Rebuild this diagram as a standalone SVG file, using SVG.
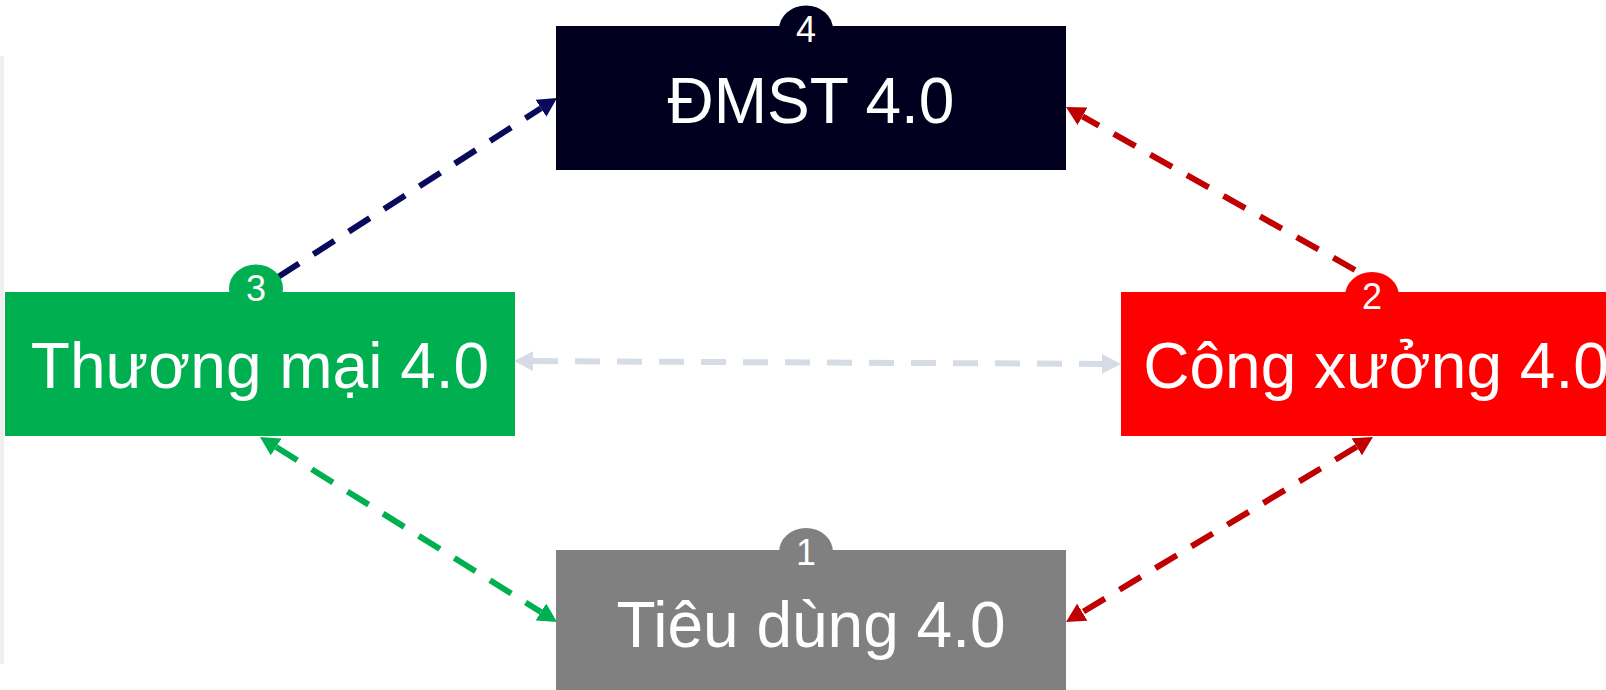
<svg xmlns="http://www.w3.org/2000/svg" width="1606" height="690" viewBox="0 0 1606 690">
  <style>
    .lbl { font-family: "Liberation Sans", Arial, sans-serif; font-size: 64px; fill: #ffffff; text-anchor: middle; }
    .num { font-family: "Liberation Sans", Arial, sans-serif; font-size: 36px; fill: #ffffff; text-anchor: middle; }
    .conn { fill: none; stroke-width: 6; stroke-dasharray: 25 17; }
  </style>
  <defs>
    <marker id="ah-navy" markerUnits="userSpaceOnUse" markerWidth="20" markerHeight="20" viewBox="0 -10 20 20" refX="0" refY="0" orient="auto-start-reverse">
      <path d="M0,-10 L19,0 L0,10 z" fill="#0a0a5c"/>
    </marker>
    <marker id="ah-red" markerUnits="userSpaceOnUse" markerWidth="20" markerHeight="20" viewBox="0 -10 20 20" refX="0" refY="0" orient="auto-start-reverse">
      <path d="M0,-10 L19,0 L0,10 z" fill="#c00000"/>
    </marker>
    <marker id="ah-gray" markerUnits="userSpaceOnUse" markerWidth="20" markerHeight="20" viewBox="0 -10 20 20" refX="0" refY="0" orient="auto-start-reverse">
      <path d="M0,-10 L19,0 L0,10 z" fill="#d6dce5"/>
    </marker>
    <marker id="ah-green" markerUnits="userSpaceOnUse" markerWidth="20" markerHeight="20" viewBox="0 -10 20 20" refX="0" refY="0" orient="auto-start-reverse">
      <path d="M0,-10 L19,0 L0,10 z" fill="#00b050"/>
    </marker>
  </defs>
  <rect x="0" y="0" width="1606" height="690" fill="#ffffff"/>
  <rect x="0" y="56" width="4" height="608" fill="#efefef"/>

  <g id="connectors">
    <line class="conn" x1="278" y1="277" x2="541" y2="108.3" stroke="#0a0a5c" marker-end="url(#ah-navy)"/>
    <line class="conn" x1="1355" y1="270" x2="1082.5" y2="116.3" stroke="#c00000" marker-end="url(#ah-red)"/>
    <line class="conn" x1="533" y1="361.1" x2="1102" y2="363.9" stroke="#d6dce5" marker-start="url(#ah-gray)" marker-end="url(#ah-gray)"/>
    <line class="conn" x1="276.1" y1="447" x2="540.9" y2="612" stroke="#00b050" marker-start="url(#ah-green)" marker-end="url(#ah-green)"/>
    <line class="conn" x1="1356.7" y1="446.8" x2="1082.3" y2="612.2" stroke="#c00000" marker-start="url(#ah-red)" marker-end="url(#ah-red)"/>
  </g>

  <g id="node-dmst">
    <ellipse cx="806" cy="29.5" rx="27" ry="24" fill="#00001e"/>
    <rect x="556" y="26" width="510" height="144" fill="#00001e"/>
    <text class="num" x="806" y="42">4</text>
    <text class="lbl" x="811" y="123">ĐMST 4.0</text>
  </g>

  <g id="node-thuongmai">
    <ellipse cx="256" cy="288.5" rx="27" ry="24" fill="#00b050"/>
    <rect x="5" y="292" width="510" height="144" fill="#00b050"/>
    <text class="num" x="256" y="301">3</text>
    <text class="lbl" x="260" y="388">Thương mại 4.0</text>
  </g>

  <g id="node-congxuong">
    <ellipse cx="1372" cy="296" rx="27" ry="24" fill="#ff0000"/>
    <rect x="1121" y="292" width="510" height="144" fill="#ff0000"/>
    <text class="num" x="1372" y="309">2</text>
    <text class="lbl" x="1376" y="388">Công xưởng 4.0</text>
  </g>

  <g id="node-tieudung">
    <ellipse cx="806" cy="552" rx="27" ry="24" fill="#808080"/>
    <rect x="556" y="550" width="510" height="144" fill="#808080"/>
    <text class="num" x="806" y="565">1</text>
    <text class="lbl" x="811" y="647">Tiêu dùng 4.0</text>
  </g>
</svg>
